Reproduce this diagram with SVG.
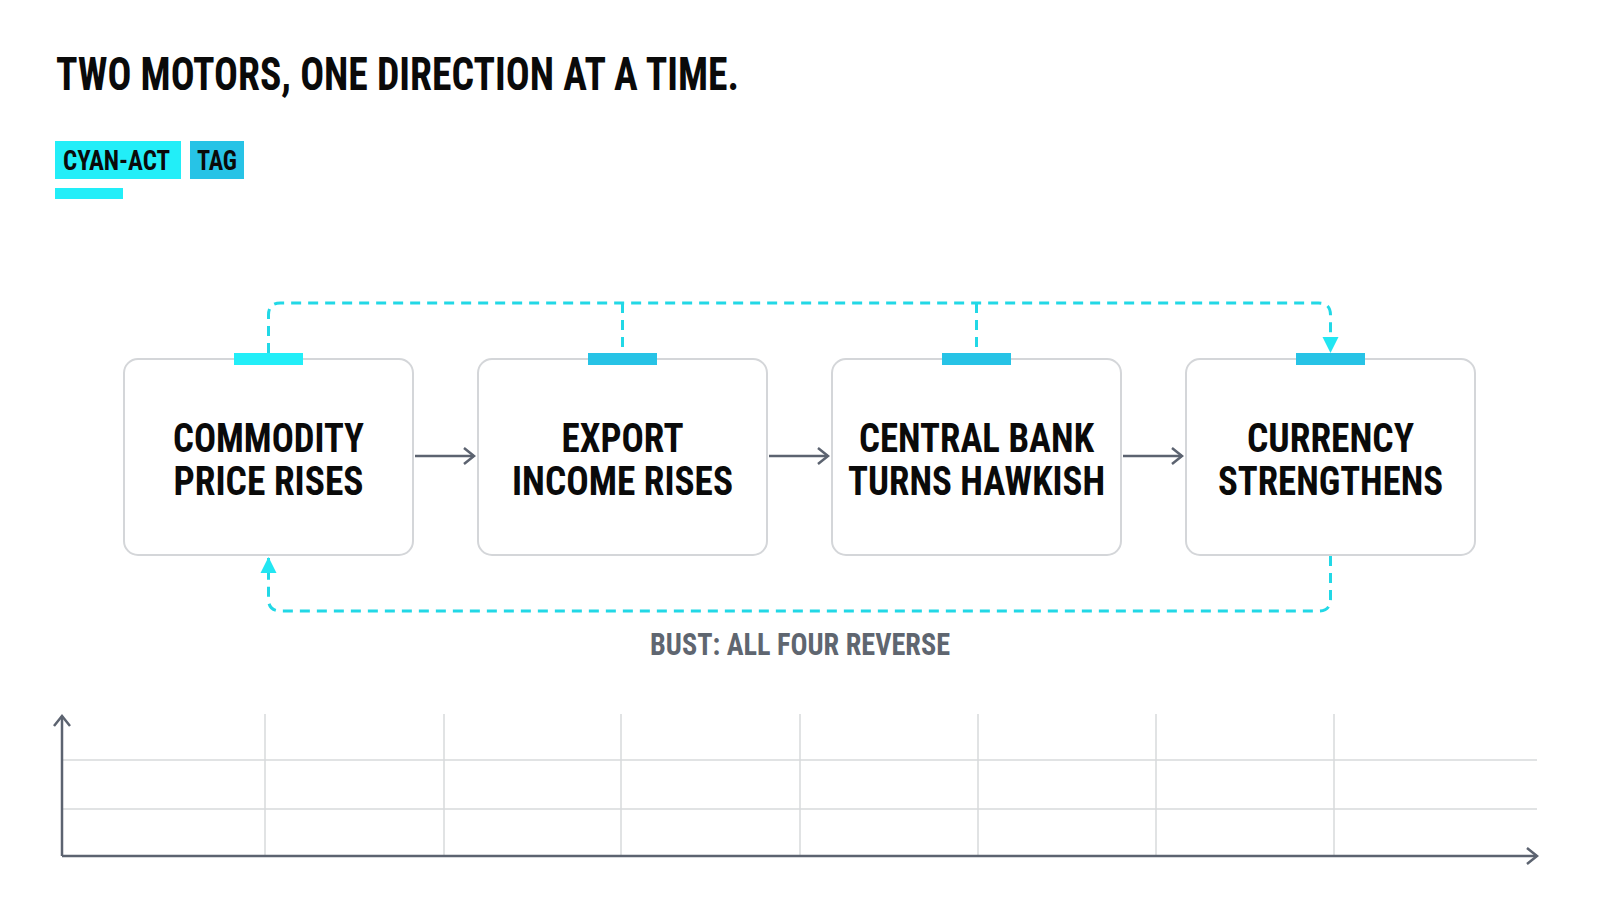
<svg xmlns="http://www.w3.org/2000/svg" width="1600" height="914" viewBox="0 0 1600 914">
<style>
text{font-family:"Liberation Sans Narrow","Roboto Condensed","Liberation Sans",sans-serif;font-weight:bold;}
.node rect.box{fill:#fff;stroke:#d4d6d9;stroke-width:2;}
.lbl{font-size:41px;fill:#0a0a0a;text-anchor:middle;}
.flow{stroke:#5c6370;stroke-width:2.5;fill:none;}
.dash{stroke:#22d8e6;stroke-width:3;fill:none;stroke-dasharray:10 7;}
.grid{stroke:#d8dadc;stroke-width:1.5;}
.axis{stroke:#5c6370;stroke-width:2.5;fill:none;}
</style>
<defs>
<marker id="ah" markerWidth="16" markerHeight="18" refX="13" refY="9" orient="auto" markerUnits="userSpaceOnUse"><path d="M3,1 L13,9 L3,17" fill="none" stroke="#5c6370" stroke-width="2.5"/></marker>
<marker id="ca" markerWidth="18" markerHeight="18" refX="16" refY="9" orient="auto" markerUnits="userSpaceOnUse"><path d="M1,1 L17,9 L1,17 Z" fill="#22e6f2"/></marker>
</defs>
<rect width="1600" height="914" fill="#fff"/>
<text x="56" y="90" font-size="47" fill="#0a0a0a" textLength="683" lengthAdjust="spacingAndGlyphs">TWO MOTORS, ONE DIRECTION AT A TIME.</text>
<g id="tag-cyan"><rect x="55" y="141" width="126" height="38" fill="#22eef8"/><text x="63" y="170" font-size="27" fill="#0a0a0a" textLength="107" lengthAdjust="spacingAndGlyphs">CYAN-ACT</text></g>
<g id="tag"><rect x="190" y="141" width="54" height="38" fill="#27c3e6"/><text x="197" y="170" font-size="27" fill="#0a0a0a" textLength="40" lengthAdjust="spacingAndGlyphs">TAG</text></g>
<rect x="55" y="188" width="68" height="11" fill="#22eef8"/>
<g id="connectors">
<path class="flow" d="M415,456 H474" marker-end="url(#ah)"/>
<path class="flow" d="M769,456 H828" marker-end="url(#ah)"/>
<path class="flow" d="M1123,456 H1182" marker-end="url(#ah)"/>
<path class="dash" d="M268.5,353 V315 Q268.5,303 280.5,303 H1318.5 Q1330.5,303 1330.5,315 V352" marker-end="url(#ca)"/>
<path class="dash" d="M622.5,303 V353"/>
<path class="dash" d="M976.5,303 V353"/>
<path class="dash" d="M1330.5,556 V599 Q1330.5,611 1318.5,611 H280.5 Q268.5,611 268.5,599 V558" marker-end="url(#ca)"/>
</g>
<g id="n1" class="node"><rect class="box" x="124" y="359" width="289" height="196" rx="14"/><rect x="234" y="353" width="69" height="12" fill="#22eef8"/><text class="lbl" x="268.5" y="452" textLength="191" lengthAdjust="spacingAndGlyphs">COMMODITY</text><text class="lbl" x="268.5" y="495" textLength="190" lengthAdjust="spacingAndGlyphs">PRICE RISES</text></g>
<g id="n2" class="node"><rect class="box" x="478" y="359" width="289" height="196" rx="14"/><rect x="588" y="353" width="69" height="12" fill="#27c3e6"/><text class="lbl" x="622.5" y="452" textLength="122" lengthAdjust="spacingAndGlyphs">EXPORT</text><text class="lbl" x="622.5" y="495" textLength="221" lengthAdjust="spacingAndGlyphs">INCOME RISES</text></g>
<g id="n3" class="node"><rect class="box" x="832" y="359" width="289" height="196" rx="14"/><rect x="942" y="353" width="69" height="12" fill="#27c3e6"/><text class="lbl" x="976.5" y="452" textLength="235" lengthAdjust="spacingAndGlyphs">CENTRAL BANK</text><text class="lbl" x="976.5" y="495" textLength="257" lengthAdjust="spacingAndGlyphs">TURNS HAWKISH</text></g>
<g id="n4" class="node"><rect class="box" x="1186" y="359" width="289" height="196" rx="14"/><rect x="1296" y="353" width="69" height="12" fill="#27c3e6"/><text class="lbl" x="1330.5" y="452" textLength="167" lengthAdjust="spacingAndGlyphs">CURRENCY</text><text class="lbl" x="1330.5" y="495" textLength="225" lengthAdjust="spacingAndGlyphs">STRENGTHENS</text></g>
<text x="800" y="655" font-size="32" fill="#5f6670" text-anchor="middle" textLength="300" lengthAdjust="spacingAndGlyphs">BUST: ALL FOUR REVERSE</text>
<g id="chart">
<path class="grid" d="M62,760 H1537 M62,809 H1537 M265,714 V856 M444,714 V856 M621,714 V856 M800,714 V856 M978,714 V856 M1156,714 V856 M1334,714 V856"/>
<path class="axis" d="M62,856 V716" marker-end="url(#ah)"/>
<path class="axis" d="M62,856 H1537" marker-end="url(#ah)"/>
</g>
</svg>
